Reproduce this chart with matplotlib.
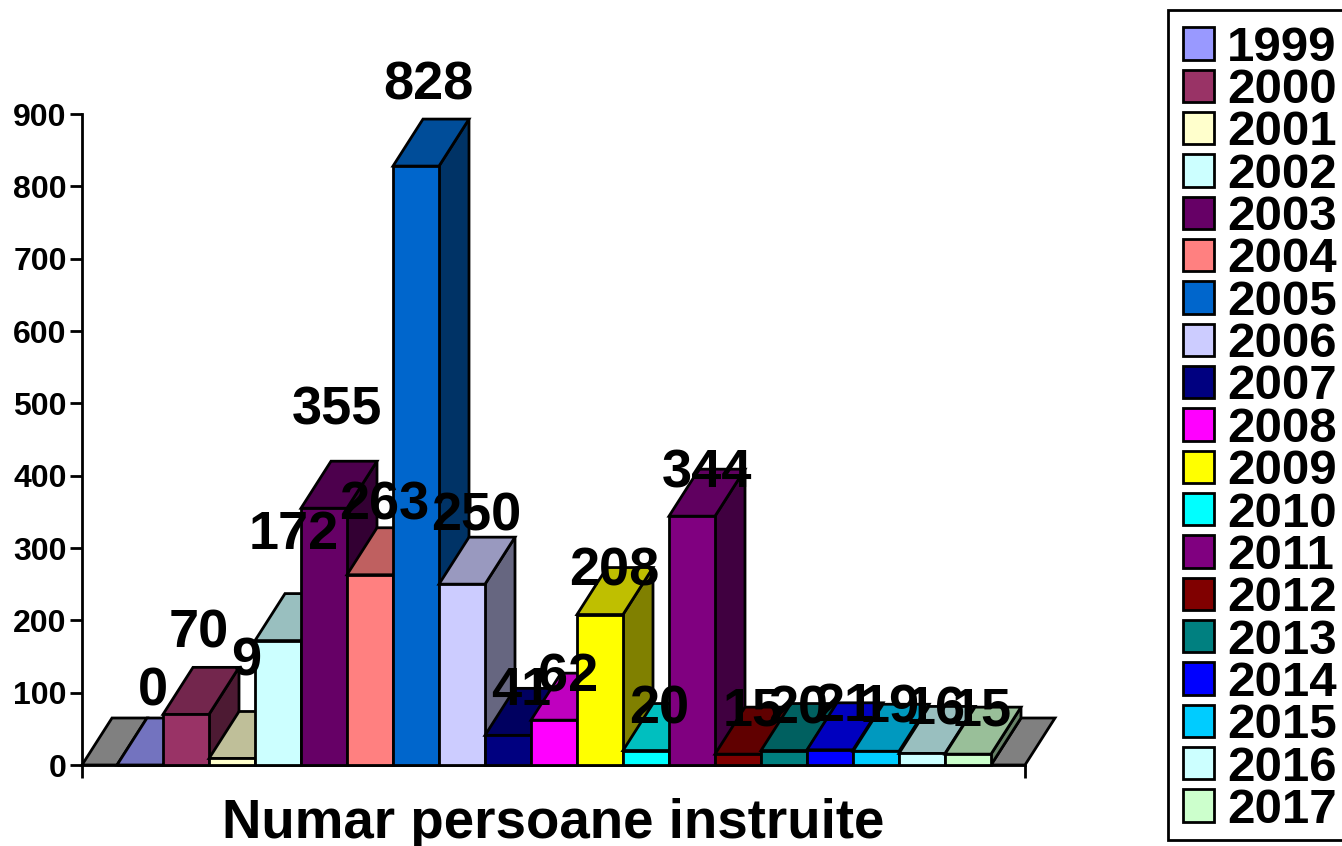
import matplotlib
matplotlib.use('Agg')
import matplotlib.pyplot as plt
from matplotlib.patches import Polygon, Patch, Rectangle
from matplotlib.colors import to_rgb

years = ['1999', '2000', '2001', '2002', '2003', '2004', '2005', '2006', '2007', '2008',
         '2009', '2010', '2011', '2012', '2013', '2014', '2015', '2016', '2017']
values = [0, 70, 9, 172, 355, 263, 828, 250, 41, 62, 208, 20, 344, 15, 20, 21, 19, 16, 15]
colors = ['#9999FF', '#993366', '#FFFFCC', '#CCFFFF', '#660066', '#FF8080', '#0066CC',
          '#CCCCFF', '#000080', '#FF00FF', '#FFFF00', '#00FFFF', '#800080', '#800000',
          '#008080', '#0000FF', '#00CCFF', '#CCFFFF', '#CCFFCC']
y_ticks = [0, 100, 200, 300, 400, 500, 600, 700, 800, 900]
x_title = 'Numar persoane instruite'

# label offsets from the bar front, they are not the same everywhere in the original
label_dx = [13, 13, 14, 16, 13, 14, 12, 14, 13, 14, 14, 13, 15, 15, 14, 14, 14, 14, 14]
label_dy = [74, 81, 97, 106, 98, 69, 81, 68, 44, 43, 43, 41, 43, 43, 41, 43, 43, 43, 43]

W, H = 1342, 846
LEFT, RIGHT, BOTTOM, TOP = 82, 1025, 765, 114
BAR_PX = 46
DEPTH_X = 30 / BAR_PX
DEPTH_Y = 47 * 900 / (BOTTOM - TOP)
LW = 2.0

plt.rcParams['font.family'] = ['Liberation Sans', 'DejaVu Sans']
plt.rcParams['font.weight'] = 'bold'


def shade(c, f):
    r, g, b = to_rgb(c)
    return (r * f, g * f, b * f)


def box(ax, x0, x1, v, col):
    # top, side, then front so the outlines stack like the 3D bars
    d = dict(edgecolor='black', linewidth=LW, joinstyle='miter', clip_on=False, zorder=3)
    ax.add_patch(Polygon([(x1, 0), (x1 + DEPTH_X, DEPTH_Y), (x1 + DEPTH_X, v + DEPTH_Y), (x1, v)],
                         facecolor=shade(col, 0.5), **d))
    ax.add_patch(Polygon([(x0, v), (x0 + DEPTH_X, v + DEPTH_Y), (x1 + DEPTH_X, v + DEPTH_Y), (x1, v)],
                         facecolor=shade(col, 0.75), **d))
    ax.add_patch(Polygon([(x0, 0), (x0, v), (x1, v), (x1, 0)], facecolor=col, **d))


fig = plt.figure(figsize=(W / 100, H / 100), dpi=100)
ax = fig.add_axes([LEFT / W, 1 - BOTTOM / H, (RIGHT - LEFT) / W, (BOTTOM - TOP) / H])
xmin = (LEFT - 117) / BAR_PX
xmax = (RIGHT - 117) / BAR_PX
ax.set_xlim(xmin, xmax)
ax.set_ylim(0, 900)

# grey floor on both ends
floor = dict(facecolor='#808080', edgecolor='black', linewidth=LW, joinstyle='miter', clip_on=False, zorder=3)
ax.add_patch(Polygon([(xmin, 0), (xmin + DEPTH_X, DEPTH_Y), (DEPTH_X, DEPTH_Y), (0, 0)], **floor))
ax.add_patch(Polygon([(19, 0), (19 + DEPTH_X, DEPTH_Y), (xmax + DEPTH_X, DEPTH_Y), (xmax, 0)], **floor))

for i in range(len(values)):
    box(ax, i, i + 1, values[i], colors[i])

for i in range(len(values)):
    ax.annotate(str(values[i]), xy=(i + 0.5, values[i]), xytext=(label_dx[i], label_dy[i]),
                textcoords='offset pixels', ha='center', va='center', fontsize=39,
                fontweight='bold', zorder=5, annotation_clip=False)

for s in ['top', 'right']:
    ax.spines[s].set_visible(False)
for s in ['left', 'bottom']:
    ax.spines[s].set_linewidth(LW)

ax.set_yticks(y_ticks)
ax.set_xticks([xmin, xmax])
ax.set_xticklabels(['', ''])
ax.tick_params(axis='both', length=9, width=LW, direction='out')
ax.tick_params(axis='y', labelsize=23, pad=2)
ax.set_xlabel(x_title, fontsize=39.3, fontweight='bold', labelpad=11.5)

# legend frame is drawn by hand, the legend's own one comes out too tall
fig.add_artist(Rectangle((1168 / W, 1 - 840 / H), 200 / W, 830 / H, transform=fig.transFigure,
                         facecolor='white', edgecolor='black', linewidth=LW))
handles = [Patch(facecolor=colors[i], edgecolor='black', linewidth=LW, label=years[i]) for i in range(len(years))]
leg = fig.legend(handles=handles, loc='upper left', bbox_to_anchor=(1168 / W, 1 - 11 / H),
                 bbox_transform=fig.transFigure, fontsize=35.5, frameon=False,
                 borderaxespad=0, borderpad=0.3,
                 handlelength=0.64, handleheight=0.64, handletextpad=0.26,
                 labelspacing=-0.054)
leg.set_zorder(5)

plt.savefig('out.png', dpi=100)
